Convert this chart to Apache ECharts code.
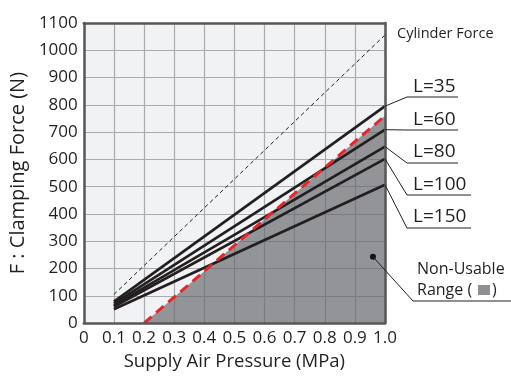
<!DOCTYPE html>
<html>
<head>
<meta charset="utf-8">
<script src="https://cdn.jsdelivr.net/npm/echarts@6/dist/echarts.min.js"></script>
<style>html,body{margin:0;padding:0;background:#fff;}#c{width:511px;height:376px;}</style>
</head>
<body>
<div id="c"></div>
<script>
// ---- data ----
const pressure = [0.1, 1.0];
const cylinderForce = [105, 1056];
const seriesNames = ['L=35', 'L=60', 'L=80', 'L=100', 'L=150'];
const L35 = [79, 795];
const L60 = [71, 709];
const L80 = [65, 647];
const L100 = [60, 602];
const L150 = [51, 507];
const limitPressure = [0.2, 1.0];
const limitForce = [0, 760];
const xTicks = [0, 0.1, 0.2, 0.3, 0.4, 0.5, 0.6, 0.7, 0.8, 0.9, 1.0];
const yTicks = [0, 100, 200, 300, 400, 500, 600, 700, 800, 900, 1000, 1100];
const nonUsableAnchor = [0.96, 243];

const FONT = 'Open Sans';
const TXT = '#231f20';
const pairs = (xs, ys) => xs.map((x, i) => [x, ys[i]]);
const lineSets = [L35, L60, L80, L100, L150];

const chart = echarts.init(document.getElementById('c'));
const axisLineStyle = { color: '#58585a', width: 2.5 };
const gridLine = { show: true, lineStyle: { color: '#aaabad', width: 1.2 } };
const borderX = pos => ({ type: 'value', min: 0, max: 1, position: pos,
  axisLine: { show: true, onZero: false, lineStyle: axisLineStyle }, axisTick: { show: false },
  axisLabel: { show: false }, splitLine: { show: false }, z: 6 });
const borderY = pos => ({ type: 'value', min: 0, max: 1100, position: pos,
  axisLine: { show: true, onZero: false, lineStyle: axisLineStyle }, axisTick: { show: false },
  axisLabel: { show: false }, splitLine: { show: false }, z: 6 });
const option = {
  animation: false,
  grid: { left: 83, top: 23, width: 302, height: 302, show: true, backgroundColor: '#f1f2f4', borderWidth: 0 },
  xAxis: [{
    type: 'value', min: xTicks[0], max: xTicks[xTicks.length - 1], interval: 0.1,
    name: 'Supply Air Pressure (MPa)', nameLocation: 'middle', nameGap: 28,
    nameTextStyle: { fontFamily: FONT, fontSize: 18.5, color: TXT },
    axisLine: { show: false }, axisTick: { show: false },
    axisLabel: { fontFamily: FONT, fontSize: 17, color: TXT, margin: 7,
      formatter: v => { const r = Math.round(v * 10) / 10; return r === 0 ? '0' : r.toFixed(1); } },
    splitLine: gridLine, z: 0
  }, borderX('top'), borderX('bottom')],
  yAxis: [{
    type: 'value', min: yTicks[0], max: yTicks[yTicks.length - 1], interval: 100,
    name: 'F : Clamping Force (N)', nameLocation: 'middle', nameGap: 42,
    nameTextStyle: { fontFamily: FONT, fontSize: 20, color: TXT },
    axisLine: { show: false }, axisTick: { show: false },
    axisLabel: { fontFamily: FONT, fontSize: 17, color: TXT, margin: 6, formatter: v => String(v) },
    splitLine: gridLine, z: 0
  }, borderY('left'), borderY('right')],
  series: [
    { type: 'line', name: 'Non-Usable', data: pairs(limitPressure, limitForce), symbol: 'none',
      lineStyle: { width: 0 }, areaStyle: { color: 'rgb(100,101,106)', opacity: 0.67, origin: 'start' }, z: 1 },
    { type: 'line', name: 'Cylinder Force', data: pairs(pressure, cylinderForce), symbol: 'none',
      lineStyle: { color: TXT, width: 1, type: [4, 3] }, z: 3 },
    ...lineSets.map((s, i) => ({ type: 'line', name: seriesNames[i], data: pairs(pressure, s), symbol: 'none',
      lineStyle: { color: TXT, width: 2.7 }, z: 3 })),
    { type: 'line', name: 'Limit', data: pairs(limitPressure, limitForce), symbol: 'none',
      lineStyle: { color: '#e8252b', width: 3, type: [10, 6] }, z: 4 }
  ]
};
chart.setOption(option);

// ---- annotations ----
const px = (x, y) => chart.convertToPixel({ xAxisIndex: 0, yAxisIndex: 0 }, [x, y]);
const labelLayout = [
  { mid: 87, ul: 97, end: 458 },
  { mid: 119.5, ul: 130, end: 458 },
  { mid: 151.5, ul: 163, end: 458 },
  { mid: 184.3, ul: 195, end: 471 },
  { mid: 217, ul: 228, end: 471 }
];
const g = [];
const lw = { stroke: TXT, lineWidth: 1 };
const txt = (x, y, s, size) => ({ type: 'text', x: x, y: y,
  style: { text: s, font: size + 'px "Open Sans"', fill: TXT, verticalAlign: 'middle', align: 'left' }, z: 10 });
g.push(txt(397, 34, 'Cylinder Force', 14.5));
lineSets.forEach((s, i) => {
  const end = px(pressure[1], s[1]);
  const L = labelLayout[i];
  g.push({ type: 'polyline', shape: { points: [[end[0], end[1]], [407, L.ul], [L.end, L.ul]] }, style: Object.assign({ fill: null }, lw), z: 10 });
  g.push(txt(413, L.mid, seriesNames[i], 19));
});
const dot = px(nonUsableAnchor[0], nonUsableAnchor[1]);
g.push({ type: 'circle', shape: { cx: dot[0], cy: dot[1], r: 3 }, style: { fill: '#111' }, z: 10 });
g.push({ type: 'polyline', shape: { points: [[dot[0], dot[1]], [413, 301], [511, 301]] }, style: Object.assign({ fill: null }, lw), z: 10 });
g.push(txt(417, 269, 'Non-Usable', 16));
g.push(txt(417, 290, 'Range (', 16));
g.push({ type: 'rect', shape: { x: 478, y: 285, width: 12, height: 10 }, style: { fill: '#8e8f93' }, z: 10 });
g.push(txt(492, 290, ')', 16));
chart.setOption({ graphic: g });
</script>
</body>
</html>
